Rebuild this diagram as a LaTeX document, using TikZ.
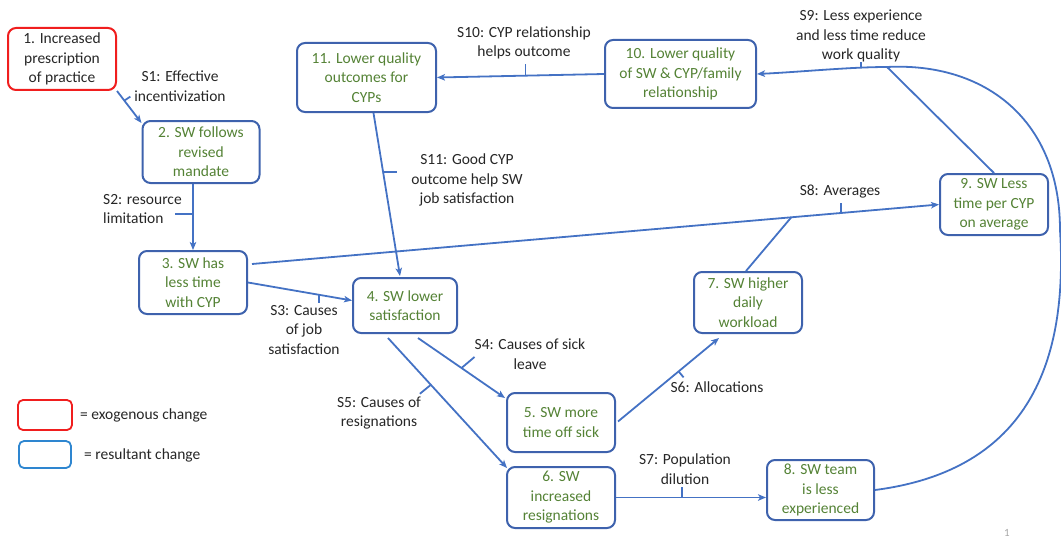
\documentclass[tikz,border=0pt]{standalone}
\usepackage{fontspec}
\setmainfont{Carlito}
\usetikzlibrary{arrows.meta,calc}
\definecolor{boxblue}{HTML}{3E62AD}
\definecolor{arrblue}{HTML}{4472C4}
\definecolor{txtgreen}{HTML}{548235}
\definecolor{lblgray}{HTML}{262626}
\definecolor{exored}{HTML}{F01E1E}
\definecolor{legblue}{HTML}{2E86D0}
\begin{document}
\begin{tikzpicture}[x=1pt,y=-1pt,
  font=\fontsize{15.5}{19.5}\selectfont,
  box/.style={draw=boxblue, line width=2pt, rounded corners=8pt, align=center, text=txtgreen, inner sep=0pt},
  arr/.style={draw=arrblue, line width=1.8pt, -{Stealth[length=8pt,width=6.5pt,inset=2pt]}},
  ln/.style={draw=arrblue, line width=1.8pt},
  lbl/.style={align=center, text=lblgray, inner sep=0pt}]
\useasboundingbox (0,0) rectangle (1061,543);

% nodes
\node[box, draw=exored, text=lblgray, minimum width=108pt, minimum height=62pt] (n1) at (62,59) {1. Increased\\prescription\\of practice};
\node[box, minimum width=117pt, minimum height=62pt] (n2) at (201,152) {2. SW follows\\revised\\mandate};
\node[box, minimum width=108pt, minimum height=63pt] (n3) at (193,282.5) {3. SW has\\less time\\with CYP};
\node[box, minimum width=104pt, minimum height=55pt] (n4) at (405,305.5) {4. SW lower\\satisfaction};
\node[box, minimum width=108pt, minimum height=59pt] (n5) at (561,422.5) {5. SW more\\time off sick};
\node[box, minimum width=108pt, minimum height=61pt] (n6) at (561,497.5) {6. SW\\increased\\resignations};
\node[box, minimum width=108pt, minimum height=61pt] (n7) at (748,302.5) {7. SW higher\\daily\\workload};
\node[box, minimum width=107pt, minimum height=60pt] (n8) at (820.5,490) {8. SW team\\is less\\experienced};
\node[box, minimum width=108pt, minimum height=61pt] (n9) at (994,204.5) {9. SW Less\\time per CYP\\on average};
\node[box, minimum width=151pt, minimum height=68pt] (n10) at (680.5,74) {10. Lower quality\\of SW \& CYP/family\\relationship};
\node[box, minimum width=139pt, minimum height=69pt] (n11) at (366.5,77.5) {11. Lower quality\\outcomes for\\CYPs};

% labels
\node[lbl] (l1) at (180,86) {S1: Effective\\incentivization};
\node[lbl, align=left, anchor=west] (l2) at (103,209) {S2: resource\\limitation};
\node[lbl] (l3) at (304,330) {S3: Causes\\of job\\satisfaction};
\node[lbl] (l4) at (530,354) {S4: Causes of sick\\leave};
\node[lbl] (l5) at (379,413) {S5: Causes of\\resignations};
\node[lbl] (l6) at (717,387) {S6: Allocations};
\node[lbl] (l7) at (685,469) {S7: Population\\dilution};
\node[lbl] (l8) at (840,192) {S8: Averages};
\node[lbl] (l9) at (861,36) {S9: Less experience\\and less time reduce\\work quality};
\node[lbl] (l10) at (524,43) {S10: CYP relationship\\helps outcome};
\node[lbl] (l11) at (467,180) {S11: Good CYP\\outcome help SW\\job satisfaction};

% edges
\draw[arr] (n1.south east) -- coordinate[pos=0.3] (t1) ($(n2.north west)+(0,3)$);
\draw[ln] (t1) -- ++(6,-4);

\draw[arr] (n2.south -| n3.north) -- coordinate[pos=0.45] (t2) (n3.north);
\draw[ln] (t2) -- ++(-18,0);

\draw[arr] (n3.east) -- coordinate[pos=0.68] (t3) ($(n4.west)+(0,-5)$);
\draw[ln] (t3) -- ++(0,8);

\draw[arr] ($(n3.north east)+(4,14)$) -- coordinate[pos=0.785] (j7) coordinate[pos=0.857] (t8) (n9.west);
\draw[ln] (t8) -- ++(0,-10);
\draw[ln] ($(n7.north)+(-2,0)$) -- (j7);

\draw[arr] ($(n11.south)+(7,0)$) -- coordinate[pos=0.36] (t11) ($(n4.north)+(-5,-1)$);
\draw[ln] (t11) -- ++(14,0);

\draw[arr] ($(n4.south)+(13,4)$) -- coordinate[pos=0.5] (t4) ($(n5.north west)+(-1,6)$);
\draw[ln] (t4) -- ++(13,-11);

\draw[arr] ($(n4.south)+(-17,4)$) -- coordinate[pos=0.36] (t5) ($(n6.north west)+(1,2)$);
\draw[ln] (t5) -- ++(-11,9);

\draw[arr] ($(n5.east)+(2,-1)$) -- coordinate[pos=0.6] (t6) ($(n7.south west)+(26,4)$);
\draw[ln] (t6) -- ++(5,6);

\draw[arr] (n6.east) -- coordinate[pos=0.44] (t7) (n6.east -| n8.west);
\draw[ln] (t7) -- ++(0,-11);

\draw[arr] (n10.west) -- coordinate[pos=0.47] (t10) (n11.east);
\draw[ln] (t10) -- ++(0,-12);

\coordinate (j9) at (887,67);
\draw[arr] (n8.east) .. controls (1030,470) and (1068,360) .. (1060,230)
  .. controls (1060,120) and (985,62) .. (j9)
  .. controls (850,67) and (800,72) .. (n10.east);
\coordinate (t9) at (861,67);
\draw[ln] (t9) -- ++(0,-5);
\draw[ln] (n9.north) -- (j9);

% legend
\node[draw=exored, line width=1.8pt, rounded corners=5pt, minimum width=54pt, minimum height=30pt, inner sep=0pt] (lg1) at (45,415) {};
\node[lbl, anchor=west] (lt1) at (80,415) {= exogenous change};
\node[draw=legblue, line width=1.8pt, rounded corners=5pt, minimum width=52pt, minimum height=27pt, inner sep=0pt] (lg2) at (45,454.5) {};
\node[lbl, anchor=west] (lt2) at (84,455) {= resultant change};

\node[text=gray!70, inner sep=0pt, font=\fontsize{11}{13}\selectfont] (pg) at (1007,533) {1};
\end{tikzpicture}
\end{document}
